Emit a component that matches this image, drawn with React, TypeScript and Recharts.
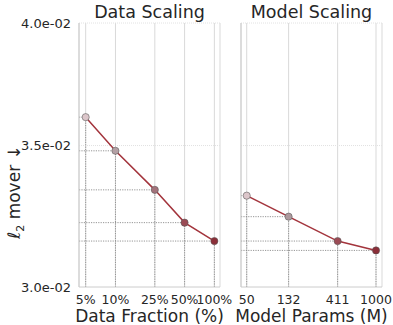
import React from 'react';
import { LineChart, Line, XAxis, YAxis, CartesianGrid, ReferenceLine } from 'recharts';

// values (log-log axes)
const dataFractions = [5, 10, 25, 50, 100];
const dataMover = [0.0361, 0.0348, 0.03335, 0.03218, 0.03154];
const modelParams = [50, 132, 411, 1000];
const modelMover = [0.03314, 0.03239, 0.03154, 0.03122];
const yTicks = [0.03, 0.035, 0.04];
const yDomain = [0.03, 0.04];

const FONT = '"DejaVu Sans", sans-serif';
const TEXT = '#262626';
const LINE = '#a3343c';
const dataDotColors = ['#dcc6ca', '#b3a0a4', '#a3737b', '#9b4b55', '#8b2e38'];
const modelDotColors = ['#dcc6ca', '#ae9a9e', '#9b4b55', '#8b2e38'];

const fmtSci = (v: number) => {
    const [m, e] = v.toExponential(1).split('e');
    const n = Math.abs(parseInt(e, 10));
    return `${m}e${e.startsWith('-') ? '-' : '+'}${n < 10 ? '0' + n : n}`;
};

interface PanelProps {
    title: string;
    xLabel: string;
    xs: number[];
    ys: number[];
    xDomain: [number, number];
    dotColors: string[];
    width: number;
    yAxisWidth: number;
    rightMargin: number;
    showYLabels: boolean;
    tickSuffix: string;
}

const Panel: React.FC<PanelProps> = ({
    title, xLabel, xs, ys, xDomain, dotColors, width, yAxisWidth, rightMargin, showYLabels, tickSuffix,
}) => {
    const rows = xs.map((x, i) => ({ x, y: ys[i] }));
    const plotCenter = yAxisWidth + (width - yAxisWidth - rightMargin) / 2;

    const renderDot = (props: any) => {
        const { cx, cy, index } = props;
        return (
            <circle
                key={`dot-${index}`}
                cx={cx}
                cy={cy}
                r={3.6}
                fill={dotColors[index]}
                stroke="#555"
                strokeOpacity={0.55}
                strokeWidth={1}
            />
        );
    };

    return (
        <LineChart
            width={width}
            height={325}
            data={rows}
            margin={{ top: 23, right: rightMargin, bottom: 0, left: 0 }}
        >
            <CartesianGrid vertical horizontal={false} stroke="#d9d9d9" strokeWidth={1} />
            {yTicks.slice(1).map((t) => (
                <ReferenceLine key={`h-${t}`} y={t} stroke="#e2e2e2" strokeDasharray="1 1" />
            ))}
            {rows.map((r) => (
                <ReferenceLine
                    key={`gh-${r.x}`}
                    segment={[{ x: xDomain[0], y: r.y }, { x: r.x, y: r.y }]}
                    stroke="#8a8a8a"
                    strokeDasharray="1.2 1.2"
                    strokeWidth={0.9}
                />
            ))}
            {rows.map((r) => (
                <ReferenceLine
                    key={`gv-${r.x}`}
                    segment={[{ x: r.x, y: yDomain[0] }, { x: r.x, y: r.y }]}
                    stroke="#8a8a8a"
                    strokeDasharray="1.2 1.2"
                    strokeWidth={0.9}
                />
            ))}
            <XAxis
                dataKey="x"
                type="number"
                scale="log"
                domain={xDomain}
                allowDataOverflow
                ticks={xs}
                tickFormatter={(v) => `${v}${tickSuffix}`}
                height={38}
                tickLine={false}
                axisLine={{ stroke: '#cccccc' }}
                tick={{ fill: TEXT, fontSize: 12.5, fontFamily: FONT }}
                interval={0}
                label={{
                    content: () => (
                        <text x={plotCenter} y={322} textAnchor="middle" fill={TEXT} fontSize={17} fontFamily={FONT}>
                            {xLabel}
                        </text>
                    ),
                }}
            />
            <YAxis
                type="number"
                scale="log"
                domain={yDomain}
                allowDataOverflow
                ticks={yTicks}
                width={yAxisWidth}
                tickLine={false}
                axisLine={{ stroke: '#cccccc' }}
                tick={showYLabels ? { fill: TEXT, fontSize: 13, fontFamily: FONT } : false}
                tickFormatter={fmtSci}
                label={showYLabels ? {
                    content: () => (
                        <text
                            transform="translate(20, 192) rotate(-90)"
                            textAnchor="middle"
                            fill={TEXT}
                            fontSize={17}
                            fontFamily={FONT}
                        >
                            <tspan fontStyle="italic">ℓ</tspan>
                            <tspan fontSize={11} dy={4}>2</tspan>
                            <tspan dy={-4}> mover ↓</tspan>
                        </text>
                    ),
                } : undefined}
            />
            <Line
                type="linear"
                dataKey="y"
                stroke={LINE}
                strokeWidth={1.5}
                dot={renderDot}
                activeDot={false}
                isAnimationActive={false}
            />
            <text x={plotCenter} y={18} textAnchor="middle" fill={TEXT} fontSize={17.5} fontFamily={FONT}>
                {title}
            </text>
        </LineChart>
    );
};

export default function App() {
    return (
        <div style={{ position: 'absolute', left: 0, top: 0, width: 393, height: 325, background: '#fff' }}>
            <div style={{ position: 'absolute', left: 0, top: 0 }}>
                <Panel
                    title="Data Scaling"
                    xLabel="Data Fraction (%)"
                    xs={dataFractions}
                    ys={dataMover}
                    xDomain={[4.28, 114]}
                    dotColors={dataDotColors}
                    width={240}
                    yAxisWidth={79}
                    rightMargin={20}
                    showYLabels
                    tickSuffix="%"
                />
            </div>
            <div style={{ position: 'absolute', left: 230, top: 0 }}>
                <Panel
                    title="Model Scaling"
                    xLabel="Model Params (M)"
                    xs={modelParams}
                    ys={modelMover}
                    xDomain={[43.8, 1149]}
                    dotColors={modelDotColors}
                    width={163}
                    yAxisWidth={11}
                    rightMargin={11}
                    showYLabels={false}
                    tickSuffix=""
                />
            </div>
        </div>
    );
}
